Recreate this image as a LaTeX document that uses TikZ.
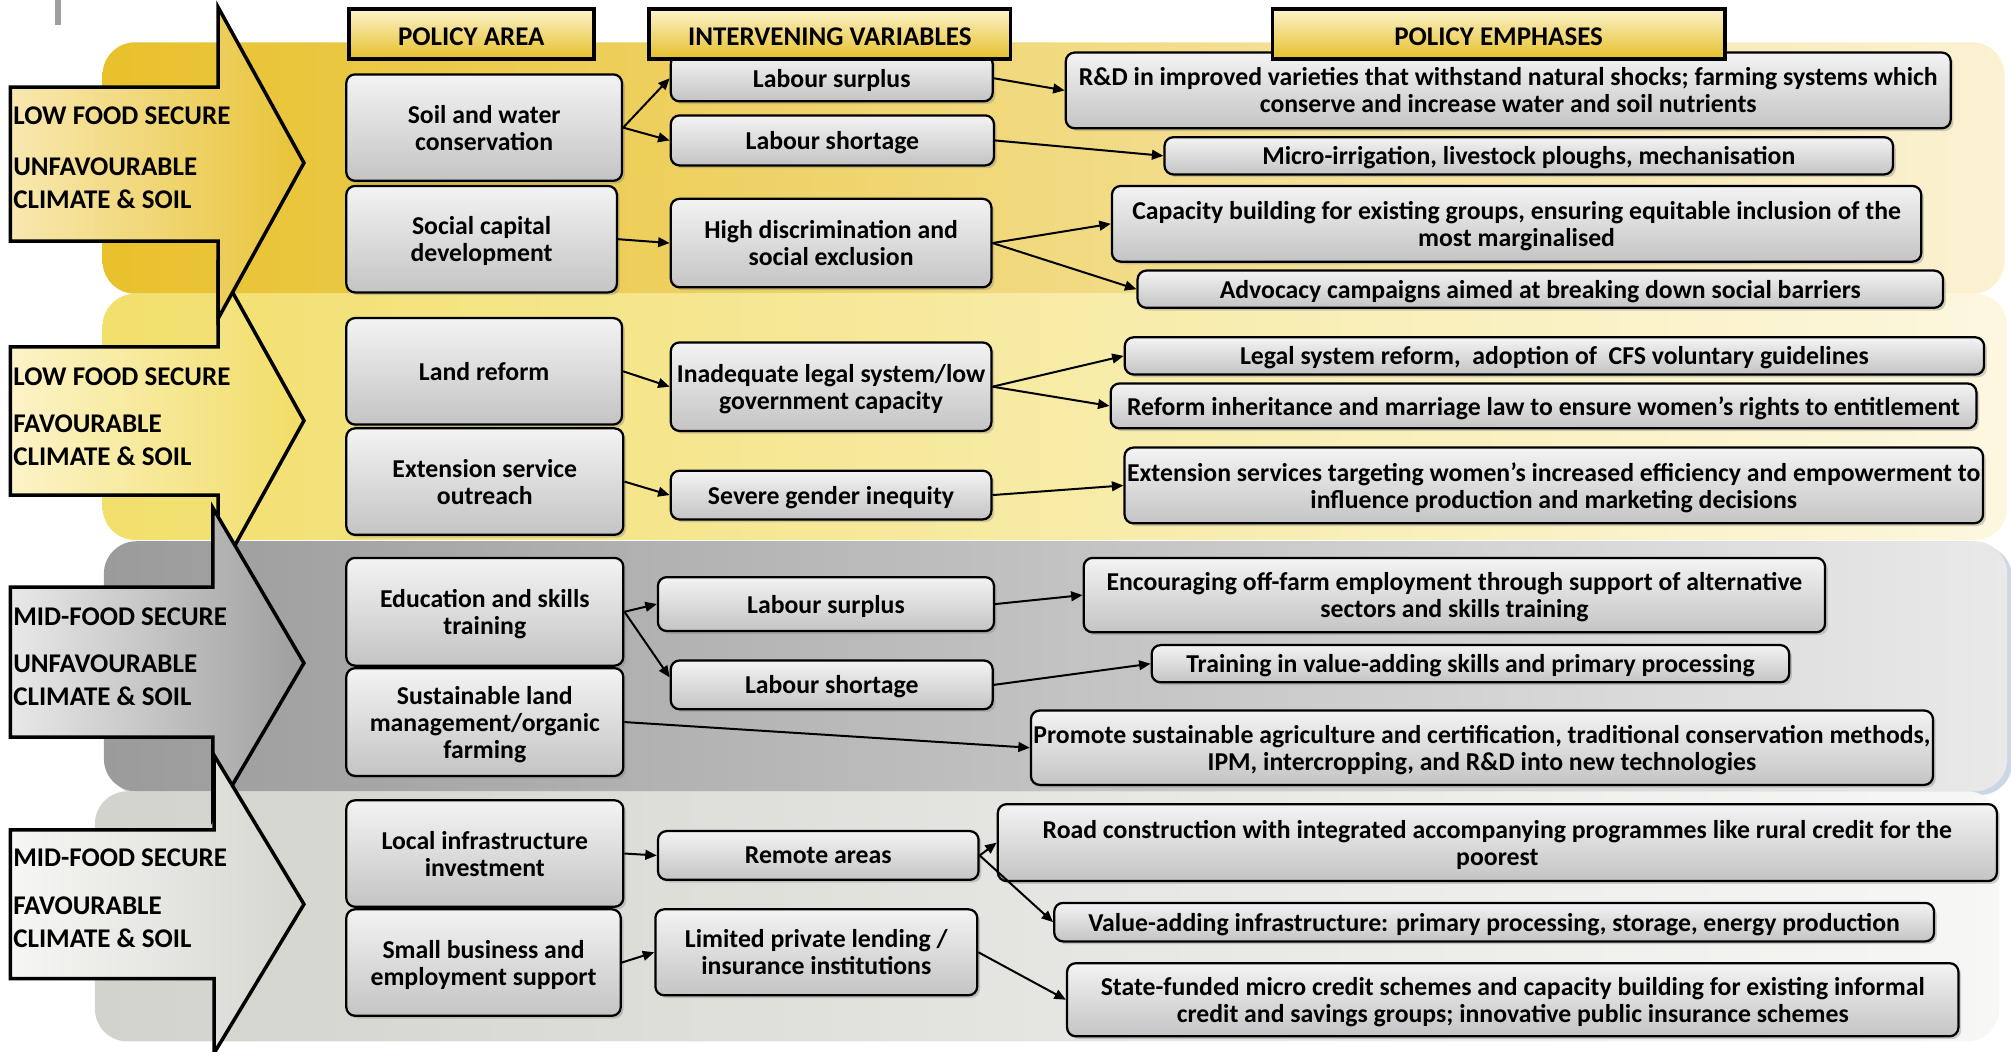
\documentclass[tikz,border=0pt]{standalone}
\usepackage{fontspec}
\setmainfont{Carlito}
\usetikzlibrary{arrows.meta,shadows}
% band shades, left to right
\definecolor{lowA}{HTML}{E8C12C}
\definecolor{lowB}{HTML}{FBF2D4}
\definecolor{lowfavA}{HTML}{F2DF6C}
\definecolor{lowfavB}{HTML}{FCF7DF}
\definecolor{midA}{HTML}{9B9B9B}
\definecolor{midB}{HTML}{E9E9E9}
\definecolor{midfavA}{HTML}{D3D3CD}
\definecolor{midfavB}{HTML}{F7F7F5}
% block arrows
\definecolor{arrlowL}{HTML}{F8E8B0}
\definecolor{arrlowR}{HTML}{E8C338}
\definecolor{arrlowfavL}{HTML}{FCF3C8}
\definecolor{arrlowfavR}{HTML}{F1DD66}
\definecolor{arrmidL}{HTML}{E8E8E8}
\definecolor{arrmidR}{HTML}{9E9E9E}
\definecolor{arrmidfavL}{HTML}{F6F6F4}
\definecolor{arrmidfavR}{HTML}{D6D6D0}
% boxes and column heads
\definecolor{cardtop}{HTML}{F3F3F3}
\definecolor{cardbot}{HTML}{C4C4C4}
\definecolor{headtop}{HTML}{FCF3CC}
\definecolor{headbot}{HTML}{E6BF2A}
\definecolor{bandglow}{HTML}{8FA6C8}

\begin{document}
\begin{tikzpicture}[x=0.513pt, y=-0.513pt,
		font=\fontsize{10.3}{10.8}\selectfont\bfseries,
		band/.style={rounded corners=13pt},
		bigarrow/.style={draw=black, line width=1.4pt, miter limit=10},
		region/.style={anchor=west, align=left, inner sep=0pt,
		               font=\fontsize{10.8}{13.3}\selectfont\bfseries},
		card/.style={draw=black, line width=0.9pt, rounded corners=3.5pt,
		             top color=cardtop, bottom color=cardbot, align=center, inner sep=1pt,
		             text depth=0pt,
		             drop shadow={shadow xshift=1.1pt, shadow yshift=-1.1pt, opacity=0.35}},
		boxw/.style={minimum width=#1*0.513pt},
		boxh/.style={minimum height=#1*0.513pt},
		header/.style={draw=black, line width=1.4pt, top color=headtop, bottom color=headbot,
		               font=\fontsize{10.8}{12}\selectfont\bfseries,
		               inner sep=0pt, text height=9.5pt, text depth=0pt, minimum height=39*0.513pt},
		link/.style={-{Triangle[length=4.6pt,width=3.9pt]}, line width=0.8pt}]
	\useasboundingbox (0,0) rectangle (1568,820);
	\fill[gray!75] (43,0) rectangle (47.5,19.5);

	% background bands
	\path[band, left color=lowA, right color=lowB] (80,33) rectangle (1563,229);
	\path[band, left color=lowfavA, right color=lowfavB] (80,229) rectangle (1565,421);
	\path[band, left color=midA, right color=midB,
	      drop shadow={shadow xshift=2pt, shadow yshift=-1.5pt, fill=bandglow, opacity=0.45}]
		(81,422) rectangle (1565,617);
	\path[band, left color=midfavA, right color=midfavB] (74,617) rectangle (1559,812);

	% block arrows (second one sits under the first)
	\draw[bigarrow, left color=arrlowfavL, right color=arrlowfavR]
		(8,270.5) -- (170,270.5) -- (170,207.5) -- (237,328) -- (170,449) -- (170,386) -- (8,386) -- cycle;
	\draw[bigarrow, left color=arrlowL, right color=arrlowR]
		(8,68) -- (170,68) -- (170,5.5) -- (237,127) -- (170,248.5) -- (170,188) -- (8,188) -- cycle;
	\draw[bigarrow, left color=arrmidL, right color=arrmidR]
		(8,457.7) -- (166,457.7) -- (166,396) -- (237,517) -- (166,638) -- (166,574.7) -- (8,574.7) -- cycle;
	\draw[bigarrow, left color=arrmidfavL, right color=arrmidfavR]
		(8,647) -- (167,647) -- (167,589) -- (237,705) -- (167,821) -- (167,763) -- (8,763) -- cycle;

	\node[region] (lowunf) at (10,123) {LOW FOOD SECURE\\[7.2pt]UNFAVOURABLE\\CLIMATE \& SOIL};
	\node[region] (lowfav) at (10,325) {LOW FOOD SECURE\\[5.4pt]FAVOURABLE\\CLIMATE \& SOIL};
	\node[region] (midunf) at (10,512) {MID-FOOD SECURE\\[5.4pt]UNFAVOURABLE\\CLIMATE \& SOIL};
	\node[region] (midfav) at (10,700.5) {MID-FOOD SECURE\\[5.9pt]FAVOURABLE\\CLIMATE \& SOIL};

	% policy areas
	\node[card, boxw=215, boxh=83] (soil) at (377.5,99.5) {Soil and water\\conservation};
	\node[card, boxw=211, boxh=83] (social) at (375.5,186.5) {Social capital\\development};
	\node[card, boxw=215, boxh=83] (land) at (377.5,289.5) {Land reform};
	\node[card, boxw=216, boxh=83] (extension) at (378,375.5) {Extension service\\outreach};
	\node[card, boxw=216, boxh=84] (education) at (378,477) {Education and skills\\training};
	\node[card, boxw=216, boxh=84] (slm) at (378,563) {Sustainable land\\management/organic\\farming};
	\node[card, boxw=216, boxh=83] (infra) at (378,665.5) {Local infrastructure\\investment};
	\node[card, boxw=214, boxh=83] (business) at (377,750.5) {Small business and\\employment support};

	% intervening variables
	\node[card, boxw=251, boxh=36] (surplusA) at (648.5,61) {Labour surplus};
	\node[card, boxw=252, boxh=39] (shortageA) at (649,109.5) {Labour shortage};
	\node[card, boxw=250, boxh=69] (discrim) at (648,189.5) {High discrimination and\\social exclusion};
	\node[card, boxw=250, boxh=69] (legal) at (648,301.5) {Inadequate legal system/low\\government capacity};
	\node[card, boxw=250, boxh=38] (gender) at (648,386) {Severe gender inequity};
	\node[card, boxw=262, boxh=42] (surplusB) at (644,471) {Labour surplus};
	\node[card, boxw=251, boxh=38] (shortageB) at (648.5,534) {Labour shortage};
	\node[card, boxw=250, boxh=38] (remote) at (638,667) {Remote areas};
	\node[card, boxw=251, boxh=67] (lending) at (636.5,742.5) {Limited private lending /\\insurance institutions};

	% policy emphases
	\node[card, boxw=690, boxh=59] (rnd) at (1176,70.5)
		{R\&D in improved varieties that withstand natural shocks; farming systems which\\conserve and increase water and soil nutrients};
	\node[card, boxw=568, boxh=29] (irrig) at (1192,121.5) {Micro-irrigation, livestock ploughs, mechanisation};
	\node[card, boxw=631, boxh=59] (capacity) at (1182.5,174.5)
		{Capacity building for existing groups, ensuring equitable inclusion of the\\most marginalised};
	\node[card, boxw=628, boxh=29] (advocacy) at (1201,225.5) {Advocacy campaigns aimed at breaking down social barriers};
	\node[card, boxw=670, boxh=29] (legalreform) at (1212,277.5) {Legal system reform,\ \ adoption of\ \ CFS voluntary guidelines};
	\node[card, boxw=675, boxh=35] (inherit) at (1203.5,316.5)
		{Reform inheritance and marriage law to ensure women's rights to entitlement};
	\node[card, boxw=669, boxh=59] (extwomen) at (1211.5,378.5)
		{Extension services targeting women's increased efficiency and empowerment to\\influence production and marketing decisions};
	\node[card, boxw=578, boxh=58] (offfarm) at (1134,464)
		{Encouraging off-farm employment through support of alternative\\sectors and skills training};
	\node[card, boxw=497, boxh=29] (valueskills) at (1146.5,517.5) {Training in value-adding skills and primary processing};
	\node[card, boxw=703, boxh=58] (sustag) at (1155.5,583)
		{Promote sustainable agriculture and certification, traditional conservation methods,\\IPM, intercropping, and R\&D into new technologies};
	\node[card, boxw=779, boxh=60] (road) at (1167.5,657)
		{Road construction with integrated accompanying programmes like rural credit for the\\poorest};
	\node[card, boxw=686, boxh=30] (valueinfra) at (1165,719)
		{Value-adding infrastructure: primary processing, storage, energy production};
	\node[card, boxw=695, boxh=57] (microcredit) at (1179.5,779.5)
		{State-funded micro credit schemes and capacity building for existing informal\\credit and savings groups; innovative public insurance schemes};

	% column heads
	\node[header, boxw=191] (hpolicy) at (367.5,26.5) {POLICY AREA};
	\node[header, boxw=282] (hinterv) at (647,26.5) {INTERVENING VARIABLES};
	\node[header, boxw=353] (hemph) at (1168.5,26.5) {POLICY EMPHASES};

	% links
	\draw[link] (soil.east) -- (surplusA.west);
	\draw[link] (soil.east) -- (shortageA.west);
	\draw[link] (surplusA.east) -- (rnd.west);
	\draw[link] (shortageA.east) -- (irrig.west);
	\draw[link] (social.east) -- (discrim.west);
	\draw[link] (discrim.east) -- (capacity.west);
	\draw[link] (discrim.east) -- (advocacy.west);
	\draw[link] (land.east) -- (legal.west);
	\draw[link] (legal.east) -- (legalreform.west);
	\draw[link] (legal.east) -- (inherit.west);
	\draw[link] (extension.east) -- (gender.west);
	\draw[link] (gender.east) -- (extwomen.west);
	\draw[link] (education.east) -- (surplusB.west);
	\draw[link] (education.east) -- ([yshift=3pt]shortageB.west);
	\draw[link] (surplusB.east) -- (offfarm.west);
	\draw[link] (shortageB.east) -- (valueskills.west);
	\draw[link] (slm.east) -- (sustag.west);
	\draw[link] (infra.east) -- (remote.west);
	\draw[link] (remote.east) -- (road.west);
	\draw[link] (remote.east) -- (valueinfra.west);
	\draw[link] (business.east) -- (lending.west);
	\draw[link] (lending.east) -- (microcredit.west);
\end{tikzpicture}
\end{document}
